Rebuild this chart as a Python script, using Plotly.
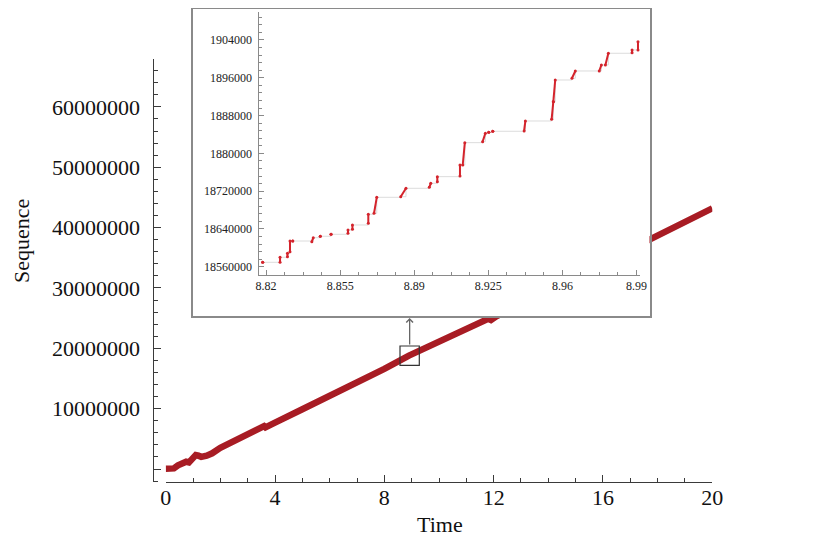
import plotly.graph_objects as go

# main series: time vs sequence number
time = [0, 0.15, 0.3, 0.45, 0.6, 0.75, 0.85, 1.0, 1.1, 1.2, 1.3, 1.5, 1.7, 2.0, 2.5,
        3.0, 3.5, 3.6, 3.65, 3.75, 4.0, 5.0, 6.0, 7.0, 8.0, 8.9, 10.0, 11.0, 11.8,
        11.9, 12.1, 13.0, 14.0, 15.0, 16.0, 17.0, 18.0, 19.0, 20.0]
sequence = [0.05e6, 0.05e6, 0.1e6, 0.6e6, 1.0e6, 1.2e6, 1.1e6, 1.8e6, 2.3e6, 2.2e6,
            2.0e6, 2.2e6, 2.6e6, 3.5e6, 4.6e6, 5.7e6, 6.9e6, 7.1e6, 6.9e6, 7.2e6,
            7.7e6, 9.9e6, 12.1e6, 14.3e6, 16.6e6, 18.8e6, 21.1e6, 23.2e6, 24.9e6,
            24.7e6, 25.3e6, 27.4e6, 29.7e6, 31.8e6, 34.0e6, 36.3e6, 38.6e6, 40.9e6,
            43.2e6]

# zoomed detail: runs of packets (start/end time, start/end sequence)
run_t0 = [8.8184, 8.8266, 8.8301, 8.8313, 8.8326, 8.8416, 8.8456, 8.8507, 8.8587,
          8.8608, 8.8683, 8.8710, 8.8836, 8.8971, 8.9009, 8.9116, 8.9129, 8.9223,
          8.9252, 8.9271, 8.9419, 8.9549, 8.9557, 8.9645, 8.9774, 8.9803, 8.9929,
          8.9957]
run_t1 = [8.8184, 8.8266, 8.8301, 8.8313, 8.8326, 8.8423, 8.8456, 8.8507, 8.8587,
          8.8608, 8.8683, 8.8723, 8.8861, 8.8978, 8.9009, 8.9116, 8.9139, 8.9236,
          8.9252, 8.9271, 8.9425, 8.9557, 8.9566, 8.9661, 8.9784, 8.9817, 8.9929,
          8.9957]
run_s0 = [18569300, 18569300, 18581200, 18591800, 18614400, 18612900, 18624400,
          18628600, 18630700, 18639200, 18651900, 18673100, 18708200, 18728100,
          18740000, 18752000, 18775300, 18824700, 18844600, 18846700, 18847300,
          18872100, 18909400, 18958900, 18974400, 18987100, 19013100, 19018900]
run_s1 = [18569300, 18579900, 18588400, 18614400, 18614400, 18621400, 18624400,
          18628600, 18637700, 18648300, 18671000, 18706900, 18726000, 18736600,
          18750600, 18775300, 18822600, 18842500, 18844600, 18846700, 18868500,
          18909400, 18955300, 18974400, 18987100, 19011900, 19018900, 19036500]

main_xticks = [0, 4, 8, 12, 16, 20]
main_yticks = [0, 10000000, 20000000, 30000000, 40000000, 50000000, 60000000]
main_ytext = ["", "10000000", "20000000", "30000000", "40000000", "50000000", "60000000"]
inset_xticks = [8.82, 8.855, 8.89, 8.925, 8.96, 8.995]
inset_xtext = ["8.82", "8.855", "8.89", "8.925", "8.96", "8.99"]
inset_yticks = [18560000, 18640000, 18720000, 18800000, 18880000, 18960000, 19040000]
inset_ytext = ["18560000", "18640000", "18720000", "1880000", "1888000", "1896000", "1904000"]

OFF = 8  # the page body adds an 8px margin around the plot div
W, H = 830 - 2 * OFF, 547 - 2 * OFF  # keep the page inside the window (no scrollbars)
FONT = "Liberation Serif"
DARK = "#3a3a3a"
GREY = "#8a8a8a"


def px_x(p):
    return min(max((p - OFF) / W, 0), 1)


def px_y(p):
    return min(max(1 - (p - OFF) / H, 0), 1)


fig = go.Figure()

fig.add_trace(go.Scatter(
    x=time, y=sequence, mode="lines",
    line=dict(color="rgb(168,28,36)", width=6.5),
    xaxis="x", yaxis="y", hoverinfo="skip",
))

# empty trace so the frame subplot exists (its background hides the main line)
fig.add_trace(go.Scatter(x=[None], y=[None], xaxis="x2", yaxis="y2", showlegend=False))

# step line through the runs, then the runs themselves
step_x, step_y = [], []
seg_x, seg_y = [], []
for a, b, c, d in zip(run_t0, run_t1, run_s0, run_s1):
    step_x += [a, b]
    step_y += [c, d]
    seg_x += [a, b, None]
    seg_y += [c, d, None]

fig.add_trace(go.Scatter(
    x=step_x, y=step_y, mode="lines", line=dict(color="#dcdcdc", width=1, shape="hv"),
    xaxis="x3", yaxis="y3", hoverinfo="skip",
))
fig.add_trace(go.Scatter(
    x=seg_x, y=seg_y, mode="lines+markers",
    line=dict(color="rgb(212,36,44)", width=2),
    marker=dict(color="rgb(212,36,44)", size=3),
    xaxis="x3", yaxis="y3", hoverinfo="skip",
))

main_font = dict(family=FONT, size=22, color="#111")
inset_font = dict(family=FONT, size=12, color="#222")

fig.update_layout(
    width=W, height=H,
    margin=dict(l=0, r=0, t=0, b=0, autoexpand=False),
    paper_bgcolor="white", plot_bgcolor="white",
    showlegend=False,
    xaxis=dict(
        domain=[px_x(165.7), px_x(712.3)], range=[0, 20], anchor="y",
        showline=True, linecolor=DARK, linewidth=1.2, showgrid=False, zeroline=False,
        tickvals=main_xticks, ticks="inside", ticklen=7, tickcolor=DARK,
        tickfont=main_font, ticklabelstandoff=-5, automargin=False,
        minor=dict(dtick=1, tick0=0, ticks="inside", ticklen=4, tickcolor=DARK, showgrid=False),
    ),
    yaxis=dict(
        domain=[px_y(482.3), px_y(59.3)], range=[-2.204e6, 67.89e6],
        anchor="free", position=px_x(152.5), automargin=False,
        showline=True, linecolor=DARK, linewidth=1.2, showgrid=False, zeroline=False,
        tickvals=main_yticks, ticktext=main_ytext, ticks="inside", ticklen=7,
        tickcolor=DARK, tickfont=main_font, ticklabelstandoff=8,
        minor=dict(dtick=2e6, tick0=0, ticks="inside", ticklen=4, tickcolor=DARK, showgrid=False),
    ),
    xaxis2=dict(
        domain=[px_x(193.3), px_x(649.5)], range=[0, 1], anchor="y2",
        showline=True, mirror=True, linecolor=GREY, linewidth=1.5,
        showgrid=False, zeroline=False, showticklabels=False, ticks="",
    ),
    yaxis2=dict(
        domain=[px_y(316), px_y(8.8)], range=[0, 1], anchor="x2",
        showline=True, mirror=True, linecolor=GREY, linewidth=1.5,
        showgrid=False, zeroline=False, showticklabels=False, ticks="",
    ),
    xaxis3=dict(
        domain=[px_x(259.3), px_x(640)], range=[8.8168, 8.99665], anchor="y3",
        showline=True, linecolor=GREY, linewidth=1, showgrid=False, zeroline=False,
        tickvals=inset_xticks, ticktext=inset_xtext, ticks="inside", ticklen=5,
        tickcolor=GREY, tickfont=inset_font, automargin=False,
        minor=dict(dtick=0.00875, tick0=8.82, ticks="inside", ticklen=3, tickcolor=GREY, showgrid=False),
    ),
    yaxis3=dict(
        domain=[px_y(275), px_y(11.7)], range=[18542400, 19099900], anchor="x3",
        showline=True, linecolor=GREY, linewidth=1, showgrid=False, zeroline=False,
        tickvals=inset_yticks, ticktext=inset_ytext, ticks="inside", ticklen=5,
        tickcolor=GREY, tickfont=inset_font, ticklabelstandoff=4, automargin=False,
        minor=dict(dtick=16000, tick0=18560000, ticks="inside", ticklen=3, tickcolor=GREY, showgrid=False),
    ),
    shapes=[
        # marker box around the zoomed region on the main curve
        dict(type="rect", xref="x", yref="y", x0=8.573, x1=9.279, y0=17.18e6, y1=20.38e6,
             line=dict(color="#333", width=1.2), fillcolor="rgba(0,0,0,0)", layer="above"),
    ],
    annotations=[
        dict(x=8.926, y=px_y(318), xref="x", yref="paper", ax=0, ay=28,
             axref="pixel", ayref="pixel", text="", showarrow=True,
             arrowhead=4, arrowsize=1, arrowwidth=1.3, arrowcolor="#666", standoff=0),
        dict(x=px_x(21), y=px_y(241), xref="paper", yref="paper", text="Sequence",
             xanchor="center", yanchor="middle",
             textangle=-90, showarrow=False, font=main_font),
        dict(x=px_x(440), y=px_y(524), xref="paper", yref="paper", text="Time",
             xanchor="center", yanchor="middle", showarrow=False, font=main_font),
    ],
)

fig.write_html("out.html")
